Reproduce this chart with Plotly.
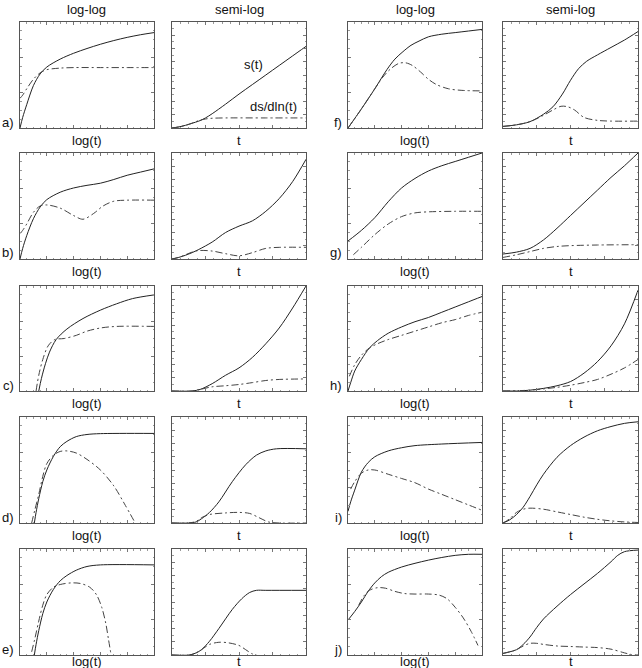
import plotly.graph_objects as go

W, H = 642, 668

# ---------------- data: (x, y) points, normalised 0..1 ----------------
# a)
a_ll_s = [(0,0),(0.02,0.1),(0.05,0.22),(0.1,0.4),(0.15,0.51),(0.2,0.575),(0.3,0.65),(0.4,0.705),(0.5,0.75),(0.6,0.79),(0.7,0.825),(0.8,0.855),(0.9,0.88),(1.0,0.9)]
a_ll_d = [(0,0.28),(0.02,0.31),(0.05,0.37),(0.1,0.46),(0.15,0.52),(0.2,0.55),(0.3,0.565),(0.4,0.57),(0.6,0.57),(0.8,0.57),(1.0,0.57)]
a_sl_s = [(0,0),(0.05,0.01),(0.1,0.025),(0.15,0.045),(0.2,0.065),(0.25,0.095),(0.3,0.135),(0.4,0.225),(0.5,0.32),(0.6,0.41),(0.7,0.5),(0.8,0.59),(0.9,0.68),(1.0,0.77)]
a_sl_d = [(0,0),(0.05,0.01),(0.1,0.025),(0.15,0.045),(0.2,0.07),(0.25,0.085),(0.3,0.092),(0.4,0.095),(0.7,0.095),(1.0,0.095)]
# b)
b_ll_s = [(0,0),(0.02,0.1),(0.05,0.22),(0.1,0.38),(0.15,0.49),(0.2,0.56),(0.3,0.63),(0.4,0.67),(0.5,0.695),(0.6,0.715),(0.7,0.75),(0.8,0.79),(0.9,0.82),(1.0,0.85)]
b_ll_d = [(0,0.24),(0.02,0.27),(0.05,0.33),(0.1,0.44),(0.15,0.5),(0.2,0.51),(0.3,0.48),(0.4,0.41),(0.47,0.375),(0.55,0.43),(0.62,0.5),(0.7,0.545),(0.8,0.555),(1.0,0.555)]
b_sl_s = [(0,0),(0.05,0.015),(0.1,0.035),(0.15,0.06),(0.2,0.09),(0.3,0.16),(0.4,0.25),(0.5,0.31),(0.6,0.36),(0.7,0.45),(0.8,0.57),(0.9,0.73),(1.0,0.94)]
b_sl_d = [(0,0),(0.05,0.015),(0.1,0.04),(0.15,0.065),(0.2,0.08),(0.3,0.075),(0.4,0.05),(0.5,0.03),(0.6,0.06),(0.7,0.1),(0.8,0.11),(1.0,0.11)]
# c)
c_ll_s = [(0.14,0),(0.16,0.12),(0.19,0.26),(0.22,0.37),(0.27,0.49),(0.35,0.59),(0.47,0.69),(0.6,0.77),(0.72,0.83),(0.84,0.88),(1.0,0.915)]
c_ll_d = [(0.12,0),(0.14,0.15),(0.17,0.3),(0.21,0.43),(0.26,0.49),(0.33,0.5),(0.42,0.53),(0.5,0.57),(0.6,0.6),(0.72,0.615),(1.0,0.615)]
c_sl_s = [(0,0),(0.15,0.0),(0.21,0.015),(0.3,0.07),(0.4,0.15),(0.5,0.22),(0.6,0.32),(0.7,0.45),(0.8,0.6),(0.9,0.79),(1.0,1.0)]
c_sl_d = [(0,0),(0.15,0),(0.21,0.015),(0.3,0.04),(0.4,0.05),(0.5,0.062),(0.6,0.08),(0.7,0.1),(0.8,0.11),(1.0,0.115)]
# d)
d_ll_s = [(0.107,0),(0.12,0.1),(0.14,0.23),(0.17,0.39),(0.2,0.5),(0.25,0.63),(0.3,0.72),(0.35,0.77),(0.42,0.815),(0.5,0.835),(0.6,0.843),(1.0,0.845)]
d_ll_d = [(0.087,0),(0.11,0.12),(0.14,0.27),(0.17,0.44),(0.2,0.56),(0.25,0.64),(0.3,0.675),(0.35,0.68),(0.42,0.66),(0.5,0.6),(0.6,0.5),(0.7,0.35),(0.78,0.18),(0.86,0.0)]
d_sl_s = [(0,0),(0.12,0),(0.18,0.01),(0.22,0.04),(0.28,0.1),(0.35,0.2),(0.45,0.39),(0.55,0.55),(0.63,0.64),(0.7,0.68),(0.78,0.7),(1.0,0.7)]
d_sl_d = [(0,0),(0.12,0),(0.18,0.015),(0.22,0.05),(0.28,0.08),(0.4,0.095),(0.5,0.1),(0.58,0.09),(0.65,0.05),(0.72,0.01),(0.8,0),(1.0,0)]
# e)
e_ll_s = [(0.107,0),(0.12,0.1),(0.14,0.23),(0.17,0.39),(0.2,0.5),(0.25,0.62),(0.3,0.7),(0.35,0.75),(0.42,0.8),(0.5,0.835),(0.6,0.85),(1.0,0.85)]
e_ll_d = [(0.087,0.03),(0.11,0.15),(0.14,0.32),(0.17,0.47),(0.2,0.57),(0.25,0.64),(0.3,0.665),(0.38,0.68),(0.45,0.675),(0.52,0.64),(0.57,0.57),(0.61,0.45),(0.64,0.3),(0.66,0.15),(0.68,0.0)]
e_sl_s = [(0,0),(0.13,0),(0.18,0.02),(0.22,0.05),(0.28,0.13),(0.35,0.25),(0.45,0.43),(0.52,0.53),(0.58,0.59),(0.63,0.61),(0.7,0.61),(1.0,0.61)]
e_sl_d = [(0,0),(0.13,0),(0.18,0.02),(0.22,0.05),(0.28,0.1),(0.35,0.12),(0.42,0.115),(0.5,0.09),(0.55,0.05),(0.6,0.01),(0.63,0)]
# f)
f_ll_s = [(0,0),(0.1,0.18),(0.2,0.37),(0.29,0.55),(0.35,0.65),(0.41,0.72),(0.47,0.78),(0.53,0.82),(0.6,0.86),(0.7,0.885),(0.8,0.9),(0.9,0.915),(1.0,0.93)]
f_ll_d = [(0,0),(0.1,0.18),(0.2,0.37),(0.26,0.48),(0.32,0.56),(0.38,0.61),(0.43,0.615),(0.48,0.59),(0.54,0.53),(0.6,0.46),(0.66,0.41),(0.75,0.37),(0.85,0.355),(1.0,0.35)]
f_sl_s = [(0,0.015),(0.1,0.03),(0.2,0.06),(0.3,0.13),(0.37,0.2),(0.44,0.32),(0.5,0.45),(0.56,0.56),(0.62,0.63),(0.7,0.69),(0.8,0.76),(0.9,0.83),(1.0,0.91)]
f_sl_d = [(0,0.015),(0.1,0.03),(0.2,0.06),(0.3,0.12),(0.37,0.17),(0.43,0.205),(0.48,0.2),(0.53,0.17),(0.6,0.1),(0.7,0.072),(0.8,0.065),(1.0,0.065)]
# g)
g_ll_s = [(0,0.17),(0.1,0.27),(0.2,0.39),(0.3,0.54),(0.4,0.67),(0.5,0.76),(0.6,0.83),(0.7,0.88),(0.8,0.92),(0.9,0.96),(1.0,1.0)]
g_ll_d = [(0.04,0.04),(0.1,0.11),(0.2,0.23),(0.3,0.33),(0.4,0.4),(0.5,0.435),(0.6,0.445),(0.8,0.45),(1.0,0.45)]
g_sl_s = [(0,0.047),(0.1,0.065),(0.2,0.1),(0.3,0.18),(0.4,0.29),(0.5,0.41),(0.6,0.53),(0.7,0.65),(0.8,0.77),(0.9,0.88),(1.0,1.0)]
g_sl_d = [(0,0.015),(0.1,0.04),(0.2,0.07),(0.3,0.1),(0.4,0.118),(0.5,0.126),(0.7,0.132),(1.0,0.135)]
# h)
h_ll_s = [(0,0),(0.02,0.08),(0.05,0.19),(0.1,0.3),(0.16,0.41),(0.22,0.48),(0.3,0.55),(0.4,0.61),(0.5,0.66),(0.6,0.7),(0.7,0.75),(0.8,0.8),(0.9,0.85),(1.0,0.9)]
h_ll_d = [(0.01,0.14),(0.05,0.25),(0.1,0.34),(0.16,0.41),(0.22,0.45),(0.3,0.49),(0.4,0.53),(0.5,0.57),(0.6,0.61),(0.7,0.65),(0.8,0.68),(0.9,0.72),(1.0,0.75)]
h_sl_s = [(0,0),(0.1,0.0),(0.2,0.008),(0.3,0.025),(0.4,0.05),(0.5,0.09),(0.6,0.17),(0.7,0.28),(0.8,0.43),(0.9,0.64),(1.0,0.96)]
h_sl_d = [(0,0),(0.2,0.008),(0.3,0.02),(0.4,0.035),(0.5,0.055),(0.6,0.08),(0.7,0.11),(0.8,0.16),(0.9,0.22),(1.0,0.3)]
# i)
i_ll_s = [(0,0.11),(0.02,0.2),(0.05,0.31),(0.1,0.48),(0.15,0.57),(0.2,0.625),(0.3,0.68),(0.4,0.71),(0.5,0.73),(0.7,0.745),(1.0,0.76)]
i_ll_d = [(0.02,0.32),(0.05,0.39),(0.1,0.47),(0.15,0.5),(0.2,0.5),(0.3,0.46),(0.4,0.42),(0.5,0.38),(0.6,0.32),(0.7,0.27),(0.8,0.22),(0.9,0.17),(1.0,0.12)]
i_sl_s = [(0,0),(0.05,0.03),(0.1,0.08),(0.15,0.15),(0.2,0.25),(0.25,0.36),(0.3,0.46),(0.4,0.62),(0.5,0.73),(0.6,0.81),(0.7,0.87),(0.8,0.91),(0.9,0.94),(1.0,0.955)]
i_sl_d = [(0,0),(0.05,0.04),(0.1,0.1),(0.15,0.13),(0.2,0.14),(0.3,0.13),(0.4,0.105),(0.5,0.08),(0.6,0.055),(0.7,0.035),(0.8,0.02),(0.9,0.01),(1.0,0.005)]
# j)
j_ll_s = [(0,0.33),(0.05,0.41),(0.1,0.5),(0.15,0.6),(0.2,0.68),(0.25,0.74),(0.3,0.78),(0.4,0.83),(0.5,0.865),(0.6,0.895),(0.7,0.92),(0.8,0.94),(0.9,0.95),(1.0,0.95)]
j_ll_d = [(0.08,0.47),(0.12,0.56),(0.16,0.61),(0.22,0.635),(0.28,0.63),(0.35,0.6),(0.42,0.58),(0.5,0.575),(0.6,0.575),(0.68,0.565),(0.74,0.53),(0.8,0.45),(0.86,0.35),(0.92,0.22),(0.97,0.09)]
j_sl_s = [(0,0.015),(0.05,0.03),(0.1,0.05),(0.15,0.1),(0.2,0.17),(0.25,0.26),(0.3,0.34),(0.4,0.46),(0.5,0.57),(0.6,0.67),(0.7,0.77),(0.8,0.88),(0.85,0.94),(0.9,0.975),(1.0,0.99)]
j_sl_d = [(0,0.015),(0.05,0.03),(0.1,0.05),(0.15,0.085),(0.2,0.11),(0.25,0.11),(0.3,0.1),(0.4,0.085),(0.5,0.08),(0.6,0.075),(0.7,0.07),(0.8,0.055),(0.9,0.02),(0.95,0.005),(1.0,0)]

panel_letters = ["a)", "b)", "c)", "d)", "e)", "f)", "g)", "h)", "i)", "j)"]
column_titles = ["log-log", "semi-log", "log-log", "semi-log"]
x_labels = ["log(t)", "t", "log(t)", "t"]
series_names = ["s(t)", "ds/dln(t)"]

panels = [
    (a_ll_s, a_ll_d, a_sl_s, a_sl_d), (b_ll_s, b_ll_d, b_sl_s, b_sl_d),
    (c_ll_s, c_ll_d, c_sl_s, c_sl_d), (d_ll_s, d_ll_d, d_sl_s, d_sl_d),
    (e_ll_s, e_ll_d, e_sl_s, e_sl_d), (f_ll_s, f_ll_d, f_sl_s, f_sl_d),
    (g_ll_s, g_ll_d, g_sl_s, g_sl_d), (h_ll_s, h_ll_d, h_sl_s, h_sl_d),
    (i_ll_s, i_ll_d, i_sl_s, i_sl_d), (j_ll_s, j_ll_d, j_sl_s, j_sl_d),
]

# ---------------- layout geometry (pixels) ----------------
col_px = [(20, 154), (172, 306), (348, 482), (503, 638)]
row_px = [(22, 128), (153, 259), (286, 391), (417, 523), (549, 655)]
label_offset = [12, 12, 12, 12, 6]

FONT = "Liberation Sans, Arial, Helvetica, sans-serif"
SOLID = dict(color="#222222", width=1.0)
DASHDOT = dict(color="#444444", width=1.0, dash="7px,3px,2px,3px")

fig = go.Figure()
layout = {}
annotations = []


def px_x(p):
    return p / W


def px_y(p):
    return 1 - p / H


ax = 0
for i, (ll_s, ll_d, sl_s, sl_d) in enumerate(panels):
    half, row = divmod(i, 5)
    for k, (s_pts, d_pts) in enumerate([(ll_s, ll_d), (sl_s, sl_d)]):
        col = half * 2 + k
        ax += 1
        xa = "x" if ax == 1 else f"x{ax}"
        ya = "y" if ax == 1 else f"y{ax}"
        for pts, style, name in [(s_pts, SOLID, series_names[0]), (d_pts, DASHDOT, series_names[1])]:
            fig.add_trace(go.Scatter(
                x=[p[0] for p in pts], y=[p[1] for p in pts], mode="lines",
                line=dict(shape="spline", smoothing=0.9, **style),
                xaxis=xa, yaxis=ya, showlegend=False, name=name, hoverinfo="skip"))
        x0, x1 = col_px[col]
        y0, y1 = row_px[row]
        is_ll = (k == 0)
        common = dict(showline=True, linecolor="#555555", linewidth=1, mirror="ticks",
                      ticks="inside", ticklen=3, tickcolor="#777777", tickwidth=1,
                      showticklabels=False, showgrid=False, zeroline=False,
                      range=[0, 1], fixedrange=True)
        layout["xaxis" if ax == 1 else f"xaxis{ax}"] = dict(
            domain=[px_x(x0), px_x(x1)], anchor=ya, tick0=0,
            dtick=0.2 if is_ll else 0.25,
            minor=dict(ticks="inside", ticklen=1.5, tickcolor="#999999", dtick=0.05 if is_ll else 0.0625),
            **common)
        layout["yaxis" if ax == 1 else f"yaxis{ax}"] = dict(
            domain=[px_y(y1), px_y(y0)], anchor=xa, tick0=0,
            dtick=1 / 3 if is_ll else 0.125,
            minor=dict(ticks="inside", ticklen=1.5, tickcolor="#999999", dtick=1 / 12 if is_ll else 0.0625),
            **common)
        # x-axis label under each panel
        annotations.append(dict(x=px_x((x0 + x1) / 2), y=px_y(y1 + label_offset[row]), xref="paper", yref="paper",
                                text=x_labels[col], showarrow=False, xanchor="center", yanchor="middle",
                                font=dict(family=FONT, size=13, color="#111111")))
        if i == 0 and k == 1:
            annotations.append(dict(x=0.61, y=0.6, xref=xa, yref=ya, text=series_names[0], showarrow=False,
                                    xanchor="center", yanchor="middle",
                                    font=dict(family=FONT, size=13, color="#111111")))
            annotations.append(dict(x=0.76, y=0.2, xref=xa, yref=ya, text=series_names[1], showarrow=False,
                                    xanchor="center", yanchor="middle",
                                    font=dict(family=FONT, size=13, color="#111111")))
    # panel letter
    x0 = col_px[half * 2][0]
    y1 = row_px[row][1]
    annotations.append(dict(x=px_x(x0 - 4), y=px_y(y1 - 6), xref="paper", yref="paper",
                            text=panel_letters[i], showarrow=False, xanchor="right", yanchor="middle",
                            font=dict(family=FONT, size=13, color="#111111")))

for col, title in enumerate(column_titles):
    x0, x1 = col_px[col]
    annotations.append(dict(x=px_x((x0 + x1) / 2), y=px_y(10), xref="paper", yref="paper",
                            text=title, showarrow=False, xanchor="center", yanchor="middle",
                            font=dict(family=FONT, size=13, color="#111111")))

fig.update_layout(width=W, height=H, margin=dict(l=0, r=0, t=0, b=0),
                  paper_bgcolor="white", plot_bgcolor="white",
                  annotations=annotations, showlegend=False, **layout)

fig.write_html("out.html")
